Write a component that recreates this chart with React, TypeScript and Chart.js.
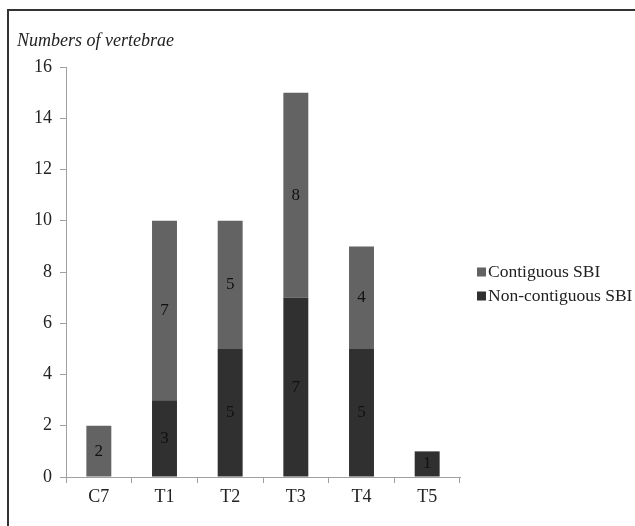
import React, { useEffect, useRef } from "react";
import { Chart, registerables } from "chart.js";

Chart.register(...registerables);

const categories = ["C7", "T1", "T2", "T3", "T4", "T5"];
const nonContiguous = [0, 3, 5, 7, 5, 1];
const contiguous = [2, 7, 5, 8, 4, 0];
const yTicks = [0, 2, 4, 6, 8, 10, 12, 14, 16];
const yTitle = "Numbers of vertebrae";
const seriesNames = ["Non-contiguous SBI", "Contiguous SBI"];

const FONT = "'Liberation Serif', 'Times New Roman', serif";

const valueLabels = {
  id: "valueLabels",
  afterDatasetsDraw(chart: any) {
    const ctx = chart.ctx;
    ctx.save();
    ctx.font = `17px ${FONT}`;
    ctx.fillStyle = "#111";
    ctx.textAlign = "center";
    ctx.textBaseline = "middle";
    chart.data.datasets.forEach((ds: any, di: number) => {
      const meta = chart.getDatasetMeta(di);
      meta.data.forEach((bar: any, i: number) => {
        const v = ds.data[i];
        if (!v) return;
        const y = (bar.y + bar.base) / 2;
        ctx.fillText(String(v), bar.x, y);
      });
    });
    ctx.restore();
  },
};

const extras = {
  id: "extras",
  afterDraw(chart: any) {
    const ctx = chart.ctx;
    const area = chart.chartArea;
    ctx.save();
    // y-axis title
    ctx.font = `italic 18px ${FONT}`;
    ctx.fillStyle = "#222";
    ctx.textAlign = "left";
    ctx.textBaseline = "alphabetic";
    ctx.fillText(yTitle, 17, area.top - 21);
    // legend (reverse order: top series first)
    ctx.font = `17.5px ${FONT}`;
    ctx.textBaseline = "middle";
    const ds = chart.data.datasets.slice().reverse();
    const lx = area.right + 17;
    const ly0 = (area.top + area.bottom) / 2;
    ds.forEach((d: any, k: number) => {
      const cy = ly0 + k * 24;
      ctx.fillStyle = d.backgroundColor;
      ctx.fillRect(lx, cy - 4.5, 9, 9);
      ctx.fillStyle = "#222";
      ctx.fillText(d.label, lx + 11, cy);
    });
    ctx.restore();
  },
};

export default function App() {
  const ref = useRef<HTMLCanvasElement>(null);
  useEffect(() => {
    if (!ref.current) return;
    const chart = new Chart(ref.current, {
      type: "bar",
      data: {
        labels: categories,
        datasets: [
          {
            label: seriesNames[0],
            data: nonContiguous,
            backgroundColor: "#303030",
            categoryPercentage: 1,
            barPercentage: 0.38,
          },
          {
            label: seriesNames[1],
            data: contiguous,
            backgroundColor: "#636363",
            categoryPercentage: 1,
            barPercentage: 0.38,
          },
        ],
      },
      options: {
        responsive: false,
        animation: false,
        layout: { padding: { left: 0, right: 175, top: 67, bottom: 0 } },
        plugins: {
          legend: { display: false },
          tooltip: { enabled: false },
          title: { display: false },
        },
        scales: {
          x: {
            stacked: true,
            grid: {
              drawOnChartArea: false,
              drawTicks: true,
              tickLength: 6,
              color: "#a0a0a0",
              offset: true,
            },
            border: { display: true, color: "#a0a0a0", width: 1 },
            ticks: {
              color: "#222",
              font: { family: FONT, size: 18 },
              padding: 3,
            },
            afterFit: (s: any) => {
              s.height = 49;
            },
          },
          y: {
            stacked: true,
            min: 0,
            max: 16,
            afterBuildTicks: (s: any) => {
              s.ticks = yTicks.map((v) => ({ value: v }));
            },
            grid: {
              drawOnChartArea: false,
              drawTicks: true,
              tickLength: 6,
              color: "#a0a0a0",
            },
            border: { display: true, color: "#a0a0a0", width: 1 },
            ticks: {
              color: "#222",
              font: { family: FONT, size: 18 },
              padding: 8,
            },
            afterFit: (s: any) => {
              s.width = 66;
            },
          },
        },
      },
      plugins: [valueLabels, extras],
    });
    return () => chart.destroy();
  }, []);

  return (
    <div style={{ position: "absolute", left: 0, top: 0, width: 635, height: 526, background: "#fff" }}>
      <canvas ref={ref} width={635} height={526} style={{ position: "absolute", left: 0, top: 0 }} />
      <div
        style={{
          position: "absolute",
          left: 7,
          top: 9,
          right: 0,
          bottom: 0,
          borderTop: "2px solid #333",
          borderLeft: "2px solid #333",
          pointerEvents: "none",
        }}
      />
    </div>
  );
}
